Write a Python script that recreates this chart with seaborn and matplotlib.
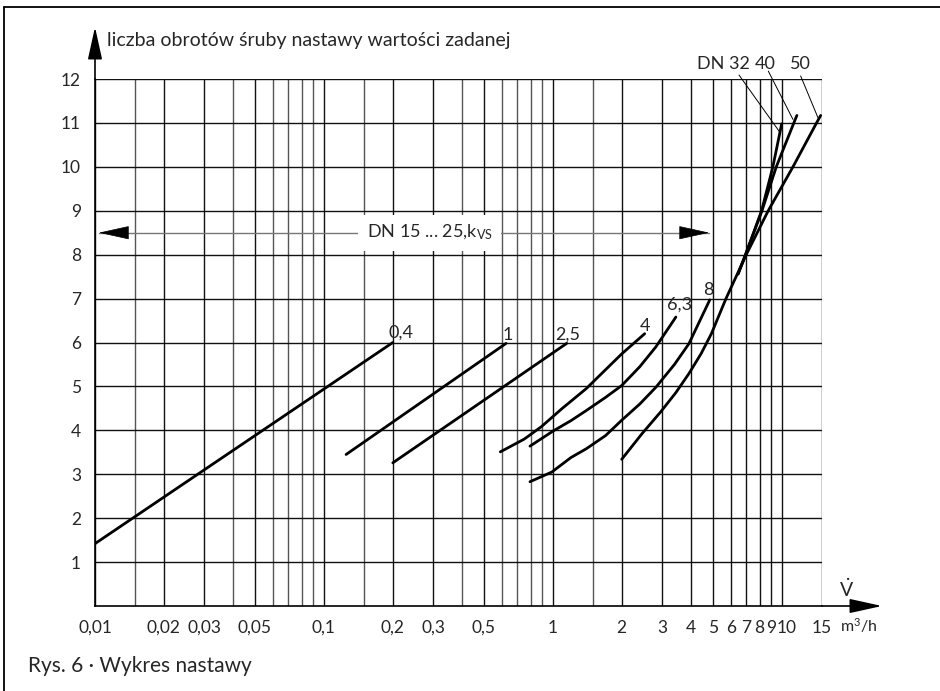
"""
Wykres nastawy (Rys. 6) -- number of set-point screw turns vs flow rate,
log x axis, one line per kvs value plus the DN 32 / 40 / 50 branches.
"""

import matplotlib
matplotlib.use('Agg')
import matplotlib.pyplot as plt
from matplotlib.lines import Line2D
from matplotlib.ticker import FixedLocator, NullFormatter
from matplotlib.transforms import ScaledTranslation
import pandas as pd
import seaborn as sns


# ── data ──────────────────────────────────────────────────────────────────────

kvs04_x = [0.01, 0.2]
kvs04_y = [1.42, 6.0]

kvs1_x = [0.125, 0.625]
kvs1_y = [3.45, 5.98]

kvs25_x = [0.2, 1.15]
kvs25_y = [3.26, 5.98]

kvs4_x = [0.59, 0.75, 0.89, 1.1, 1.4, 1.7, 2.0, 2.52]
kvs4_y = [3.51, 3.8, 4.08, 4.5, 4.95, 5.38, 5.74, 6.2]

kvs63_x = [0.795, 1.0, 1.2, 1.4, 1.7, 2.0, 2.4, 2.82, 3.45]
kvs63_y = [3.64, 3.98, 4.22, 4.45, 4.75, 5.02, 5.45, 5.9, 6.58]

kvs8_x = [0.795, 0.99, 1.2, 1.4, 1.7, 2.0, 2.4, 2.82, 3.4, 3.93, 4.85]
kvs8_y = [2.83, 3.05, 3.38, 3.58, 3.88, 4.23, 4.6, 4.98, 5.5, 5.97, 6.97]

dn50_x = [2.0, 2.45, 2.96, 3.45, 3.93, 4.45, 4.93, 5.71, 7.0, 8.73, 11.2,
          14.2, 14.8]
dn50_y = [3.34, 3.92, 4.42, 4.86, 5.29, 5.75, 6.2, 7.0, 8.0, 9.0, 10.0,
          11.0, 11.17]

dn32_x = [6.45, 6.95, 8.17, 9.15, 10.0]
dn32_y = [7.56, 8.0, 9.0, 10.0, 10.98]

dn40_x = [6.45, 6.95, 8.2, 9.47, 11.3, 11.65]
dn40_y = [7.56, 8.0, 9.0, 10.0, 11.0, 11.17]

# curve labels: text, x, baseline y
curve_labels = ['0,4', '1', '2,5', '4', '6,3', '8']
curve_label_x = [0.217, 0.634, 1.166, 2.53, 3.58, 4.79]
curve_label_y = [6.11, 6.06, 6.06, 6.27, 6.74, 7.09]

# DN labels with leader lines (text x, leader start, leader end)
dn_labels = ['DN 32', '40', '50']
dn_label_x = [5.56, 8.44, 12.1]
dn_label_y = 12.34
dn_leader_x0 = [6.51, 8.74, 12.1]
dn_leader_y0 = [12.09, 12.18, 12.07]
dn_leader_x1 = [9.84, 11.2, 14.4]
dn_leader_y1 = [10.78, 11.08, 11.12]

x_ticks = [0.01, 0.02, 0.03, 0.05, 0.1, 0.2, 0.3, 0.5, 1, 2, 3, 4, 5, 6, 7,
           8, 9, 10, 15]
x_tick_labels = ['0,01', '0,02', '0,03', '0,05', '0,1', '0,2', '0,3', '0,5',
                 '1', '2', '3', '4', '5', '6', '7', '8', '9', '10', '15']
x_grid_minor = [0.015, 0.04, 0.06, 0.07, 0.08, 0.09, 0.15, 0.4, 0.6, 0.7,
                0.8, 0.9, 1.5]
y_ticks = list(range(1, 13))

range_arrow_left = 0.0104
range_arrow_right = 4.82
range_arrow_y = 8.5
range_text_x = 0.29


# ── figure ────────────────────────────────────────────────────────────────────

sns.set_style('white')
plt.rcParams['font.family'] = ['Lato', 'DejaVu Sans']
plt.rcParams['mathtext.default'] = 'regular'

W, H = 940, 691
fig = plt.figure(figsize=(W / 100, H / 100), dpi=100)
ax = fig.add_axes([95 / W, (H - 606) / H, (822 - 95) / W, (606 - 79) / H])
ax.set_xscale('log')

rows = []
for name, xs, ys in [('0.4', kvs04_x, kvs04_y), ('1', kvs1_x, kvs1_y),
                     ('2.5', kvs25_x, kvs25_y), ('4', kvs4_x, kvs4_y),
                     ('6.3', kvs63_x, kvs63_y), ('8', kvs8_x, kvs8_y),
                     ('DN50', dn50_x, dn50_y), ('DN32', dn32_x, dn32_y),
                     ('DN40', dn40_x, dn40_y)]:
    for xv, yv in zip(xs, ys):
        rows.append({'curve': name, 'V': xv, 'n': yv})
df = pd.DataFrame(rows)

sns.lineplot(data=df, x='V', y='n', units='curve', estimator=None,
             sort=False, color='black', lw=2.0, legend=False, ax=ax, zorder=4)

ax.set_xlim(0.01, 15)
ax.set_ylim(0, 12)
ax.set_xlabel('')
ax.set_ylabel('')

# ticks and grid
ax.xaxis.set_major_locator(FixedLocator(x_ticks))
ax.set_xticklabels(x_tick_labels)
ax.xaxis.set_minor_locator(FixedLocator(x_grid_minor))
ax.xaxis.set_minor_formatter(NullFormatter())
ax.set_yticks(y_ticks)
ax.set_yticklabels([str(v) for v in y_ticks])
ax.tick_params(axis='both', which='major', direction='out', length=7,
               width=1, color='black', labelsize=12.5, pad=3)
ax.tick_params(axis='x', which='minor', length=0)
ax.grid(which='major', color='#111111', lw=1.0)
ax.grid(which='minor', axis='x', color='#555555', lw=1.0)
ax.set_axisbelow(True)

# the crowded 7 8 9 10 labels: nudge "10" a little right as in the original
for lbl in ax.get_xticklabels():
    if lbl.get_text() == '10':
        lbl.set_transform(lbl.get_transform() +
                          ScaledTranslation(5 / 100, 0, fig.dpi_scale_trans))

for side in ['top', 'right']:
    ax.spines[side].set_visible(False)
for side in ['left', 'bottom']:
    ax.spines[side].set_color('black')
    ax.spines[side].set_linewidth(1.2)

# axis arrows
arrow_kw = dict(arrowstyle='-|>,head_length=1.0,head_width=0.22',
                mutation_scale=20, color='black', lw=1.2,
                shrinkA=0, shrinkB=0)
ax.annotate('', xy=(0, (606 - 27) / 527), xytext=(0, 1),
            xycoords='axes fraction', arrowprops=arrow_kw, annotation_clip=False)
ax.annotate('', xy=((882 - 95) / 727, 0), xytext=(1, 0),
            xycoords='axes fraction', arrowprops=arrow_kw, annotation_clip=False)

# DN 15 ... 25 range arrow: grey shaft, black heads
ax.plot([range_arrow_left, range_arrow_right], [range_arrow_y, range_arrow_y],
        color='#777777', lw=1.0, zorder=3)
head_kw = dict(arrowstyle='-|>,head_length=1.0,head_width=0.22',
               mutation_scale=20, color='black', lw=0.5,
               shrinkA=0, shrinkB=0)
ax.annotate('', xy=(range_arrow_left, range_arrow_y), xytext=(20, 0),
            textcoords='offset points', arrowprops=head_kw, zorder=3)
ax.annotate('', xy=(range_arrow_right, range_arrow_y), xytext=(-20, 0),
            textcoords='offset points', arrowprops=head_kw, zorder=3)
ax.text(range_text_x, range_arrow_y, r'DN 15 ... 25,k$_{VS}$', fontsize=13,
        ha='center', va='center', zorder=3,
        bbox=dict(facecolor='white', edgecolor='none', pad=6))

# curve labels
for lbl, lx, ly in zip(curve_labels, curve_label_x, curve_label_y):
    ax.text(lx, ly, lbl, fontsize=13, ha='center', va='baseline', zorder=5)

# DN labels and leader lines
for lbl, lx in zip(dn_labels, dn_label_x):
    ax.text(lx, dn_label_y, lbl, fontsize=13, ha='center', va='center',
            clip_on=False)
for x0, y0, x1, y1 in zip(dn_leader_x0, dn_leader_y0, dn_leader_x1,
                          dn_leader_y1):
    ax.plot([x0, x1], [y0, y1], color='black', lw=0.7, clip_on=False)

# axis titles
fig.text(107 / W, 1 - 46 / H, 'liczba obrotów śruby nastawy wartości zadanej',
         fontsize=14, ha='left', va='baseline')
fig.text(847 / W, 1 - 597 / H, r'$\dot{V}$', fontsize=14, ha='center',
         va='baseline')
fig.text(840 / W, 1 - 632 / H, r'm$^3$/h', fontsize=11.5, ha='left',
         va='baseline')

# caption
fig.text(28 / W, 1 - 672 / H, 'Rys. 6 · Wykres nastawy', fontsize=15,
         ha='left', va='baseline')

# page frame (top and left rules)
fig.add_artist(Line2D([4 / W, 1], [1 - 7 / H, 1 - 7 / H], color='black',
                      lw=1.3, transform=fig.transFigure))
fig.add_artist(Line2D([4 / W, 4 / W], [0, 1 - 7 / H], color='black',
                      lw=1.3, transform=fig.transFigure))

fig.savefig('out.png', dpi=100)
plt.close(fig)
